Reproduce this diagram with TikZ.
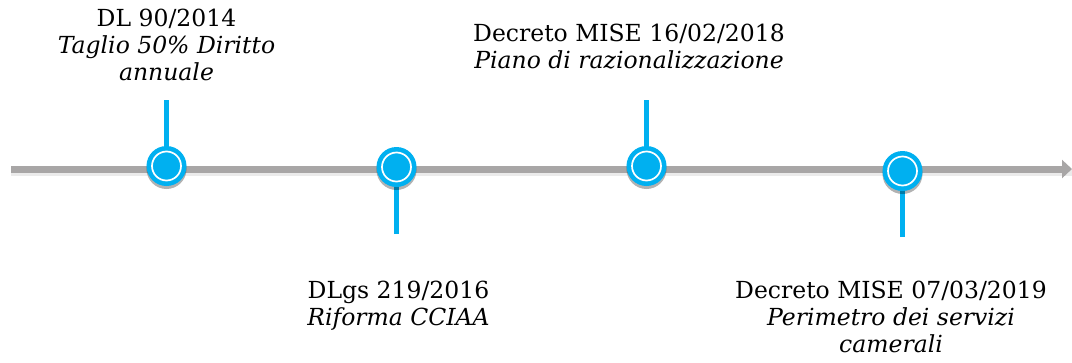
\documentclass[tikz,border=0pt]{standalone}
\usepackage{fontspec}
\setmainfont{DejaVu Serif}
\usetikzlibrary{arrows.meta,shadows}

\definecolor{evblue}{RGB}{0,176,240}
\definecolor{axisgray}{RGB}{168,166,166}

\tikzset{
  event/.style={circle, fill=evblue, minimum size=40pt, inner sep=0pt,
    drop shadow={shadow xshift=0pt, shadow yshift=-3pt, opacity=0.3, fill=black},
    path picture={\draw[white, line width=1.7pt] (path picture bounding box.center) circle (14.5pt);}},
  stem/.style={evblue, line width=5.5pt},
  evtext/.style={anchor=base, align=center, inner sep=0pt, font=\fontsize{23.5}{27}\selectfont},
}

\begin{document}
\begin{tikzpicture}[x=1pt, y=-1pt]
			\useasboundingbox (0,0) rectangle (1072,362);

			% Timeline
			\coordinate (start) at (11,169);
			\coordinate (end) at (1072,169);
			\draw[line width=7pt, black!8] ([yshift=-3pt]start) -- ([yshift=-3pt]end);
			\draw[line width=7pt, axisgray, -{Triangle[length=10pt, width=18pt]}] (start) -- (end);

			% Stem ends
			\coordinate (s2014) at (166.5,100);
			\coordinate (s2016) at (396.5,234);
			\coordinate (s2018) at (646.5,100);
			\coordinate (s2019) at (902.5,237);

			% Stems
			\draw[stem] (s2014) -- (166.5,166);
			\draw[stem] (s2016) -- (396.5,167);
			\draw[stem] (s2018) -- (646.5,166);
			\draw[stem] (s2019) -- (902.5,171);

			% Events
			\node[event] (c2014) at (166.5,166) {};
			\node[event] (c2016) at (396.5,167) {};
			\node[event] (c2018) at (646.5,166) {};
			\node[event] (c2019) at (902.5,171) {};

			% Labels (anchored at the baseline of the last line)
			\node[evtext] (t2014) at (166.5,80) {DL 90/2014\\\textit{Taglio 50\% Diritto}\\\textit{annuale}};
			\node[evtext] (t2016) at (398.5,325) {DLgs 219/2016\\\textit{Riforma CCIAA}};
			\node[evtext] (t2018) at (629,68) {Decreto MISE 16/02/2018\\\textit{Piano di razionalizzazione}};
			\node[evtext] (t2019) at (891,352) {Decreto MISE 07/03/2019\\\textit{Perimetro dei servizi}\\\textit{camerali}};
\end{tikzpicture}
\end{document}
